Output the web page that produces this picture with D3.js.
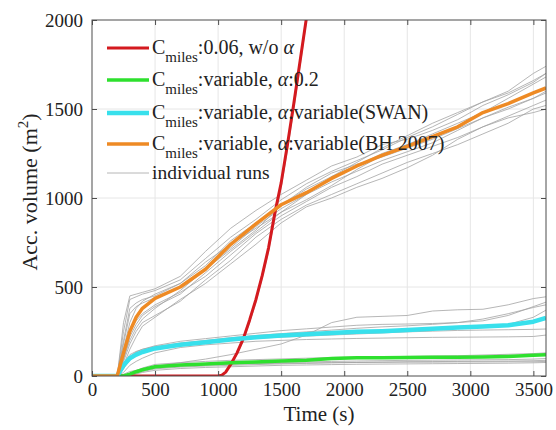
<!DOCTYPE html>
<html>
<head>
<meta charset="utf-8">
<script src="https://cdn.jsdelivr.net/npm/d3@7"></script>
<style>
body { margin: 0; background: #fff; }
text { font-family: "Liberation Serif", "Times New Roman", serif; fill: #222; }
</style>
</head>
<body>
<script>
var width = 556, height = 430;

// time grid shared by the individual runs (s)
var runTimes = [0,200,250,300,350,400,500,700,900,1100,1300,1500,1700,1900,2100,2300,2500,2700,2900,3100,3300,3500,3600];

// individual runs, BH 2007 group
var runB1 = [0,0,300,450,460,470,490,560,700,830,930,1020,1100,1180,1230,1300,1330,1380,1440,1520,1580,1650,1700];
var runB2 = [0,0,250,430,445,460,480,540,660,780,880,990,1080,1150,1210,1270,1340,1400,1470,1540,1600,1700,1740];
var runB3 = [0,0,150,300,380,420,460,520,620,760,860,960,1050,1120,1180,1250,1300,1360,1420,1480,1530,1590,1620];
var runB4 = [0,0,100,200,270,320,380,480,600,720,840,940,1020,1090,1150,1210,1260,1310,1380,1450,1510,1560,1600];
var runB5 = [0,0,120,250,310,350,400,470,560,680,800,900,980,1060,1120,1190,1240,1290,1340,1400,1460,1520,1550];
var runB6 = [0,0,80,180,250,300,340,420,540,650,780,880,960,1020,1080,1140,1200,1250,1300,1360,1420,1500,1520];
var runB7 = [0,0,200,380,410,430,450,520,640,740,830,920,990,1070,1160,1240,1300,1340,1400,1480,1560,1640,1680];
var runB8 = [0,0,90,220,290,340,390,460,580,700,810,920,1020,1120,1200,1280,1350,1420,1480,1540,1590,1660,1700];
var runB9 = [0,0,60,150,220,280,330,430,520,630,740,860,950,1000,1060,1110,1170,1240,1330,1400,1450,1480,1500];
var runB10 = [0,0,180,350,390,410,440,500,600,710,820,960,1060,1140,1190,1230,1280,1330,1390,1450,1500,1560,1590];

// individual runs, SWAN group
var runS1 = [0,0,50,110,135,150,170,195,210,225,240,255,265,275,285,290,292,295,300,310,340,390,415];
var runS2 = [0,0,70,120,138,150,165,185,200,215,228,238,248,258,268,276,282,290,300,320,350,385,400];
var runS3 = [0,0,40,90,112,130,150,170,185,200,212,222,232,240,246,252,258,262,268,275,290,330,370];
var runS4 = [0,0,60,100,122,140,160,180,195,205,212,218,224,230,236,242,248,252,256,258,260,262,264];
var runS5 = [0,0,20,60,82,100,130,160,175,185,195,200,205,208,211,213,215,217,218,219,220,222,230];
var runS6 = [0,0,10,25,32,40,55,75,95,120,150,180,230,300,330,335,340,365,372,375,400,435,445];

// individual runs, alpha 0.2 group
var runA1 = [0,0,0,15,30,45,65,75,82,88,92,96,100,104,106,108,110,112,114,118,122,126,130];
var runA2 = [0,0,0,8,19,30,45,55,62,68,72,76,79,82,84,86,88,89,90,91,92,95,98];
var runA3 = [0,0,0,5,15,25,40,50,56,60,64,68,71,74,76,78,80,81,82,83,84,86,88];
var runA4 = [0,0,0,10,22,35,50,58,63,66,69,71,73,75,76,77,78,78,79,79,80,80,82];
var runA5 = [0,0,0,3,11,20,32,42,48,52,56,60,62,64,66,67,68,69,70,71,72,74,76];

// Cmiles 0.06 without alpha
var redTimes = [0,1000,1030,1060,1100,1150,1200,1250,1300,1350,1400,1450,1500,1550,1600,1650,1700];
var redValues = [0,0,5,22,65,130,210,315,430,565,720,915,1085,1300,1530,1770,2010];
var redRun1 = [0,0,4,18,58,120,200,300,415,550,700,890,1060,1270,1500,1740,1990];

// mean curves on the run time grid
var greenValues = [0,0,0,10,24,35,52,62,68,74,79,84,89,98,102,103,104,105,106,107,110,116,120];
var cyanValues = [0,0,60,100,120,135,155,175,190,205,218,227,235,242,248,252,258,265,272,278,285,305,326];
var orangeValues = [0,0,130,250,330,380,436,500,600,740,855,962,1030,1110,1180,1240,1290,1345,1400,1480,1530,1590,1618];

var xTicks = [0,500,1000,1500,2000,2500,3000,3500];
var yTicks = [0,500,1000,1500,2000];

var runsGray = [runB1,runB2,runB3,runB4,runB5,runB6,runB7,runB8,runB9,runB10,
  runS1,runS2,runS3,runS4,runS5,runS6,runA1,runA2,runA3,runA4,runA5];

var pLeft = 92, pRight = 546, pTop = 20, pBottom = 376;

var svg = d3.select("body").append("svg")
  .attr("width", width)
  .attr("height", height);

var x = d3.scaleLinear().domain([0,3600]).range([pLeft, pRight]);
var y = d3.scaleLinear().domain([0,2000]).range([pBottom, pTop]);

// grid
svg.append("g").selectAll("line").data(xTicks.slice(1)).enter().append("line")
  .attr("x1", d => x(d)).attr("x2", d => x(d))
  .attr("y1", pTop).attr("y2", pBottom)
  .attr("stroke", "#e6e6e6").attr("stroke-width", 1);
svg.append("g").selectAll("line").data(yTicks.slice(1, -1)).enter().append("line")
  .attr("y1", d => y(d)).attr("y2", d => y(d))
  .attr("x1", pLeft).attr("x2", pRight)
  .attr("stroke", "#e6e6e6").attr("stroke-width", 1);

svg.append("clipPath").attr("id", "plotclip")
  .append("rect").attr("x", pLeft).attr("y", pTop)
  .attr("width", pRight - pLeft).attr("height", pBottom - pTop);

var plot = svg.append("g").attr("clip-path", "url(#plotclip)");

var line = d3.line()
  .x(function (d) { return x(d[0]); })
  .y(function (d) { return y(d[1]); });

function pairs(ts, vs) {
  return ts.map(function (t, i) { return [t, vs[i]]; });
}

runsGray.forEach(function (r) {
  plot.append("path")
    .attr("d", line(pairs(runTimes, r)))
    .attr("fill", "none")
    .attr("stroke", "#a3a3a3")
    .attr("stroke-width", 0.8);
});
plot.append("path")
  .attr("d", line(pairs(redTimes, redRun1)))
  .attr("fill", "none").attr("stroke", "#a3a3a3").attr("stroke-width", 0.8);

var series = [
  { ts: redTimes, vs: redValues, color: "#d41a1f", w: 3 },
  { ts: runTimes, vs: greenValues, color: "#2ee02e", w: 3.5 },
  { ts: runTimes, vs: cyanValues, color: "#38e0ec", w: 4.5 },
  { ts: runTimes, vs: orangeValues, color: "#ee8a24", w: 3.5 }
];
series.forEach(function (s) {
  plot.append("path")
    .attr("d", line(pairs(s.ts, s.vs)))
    .attr("fill", "none")
    .attr("stroke", s.color)
    .attr("stroke-width", s.w)
    .attr("stroke-linejoin", "round");
});

// axes, ticks inside like matlab
var axisColor = "#4d4d4d";
var xAxis = svg.append("g").attr("transform", "translate(0," + pBottom + ")")
  .call(d3.axisBottom(x).tickValues(xTicks).tickSize(-5).tickPadding(7).tickFormat(d3.format("d")));
var yAxis = svg.append("g").attr("transform", "translate(" + pLeft + ",0)")
  .call(d3.axisLeft(y).tickValues(yTicks).tickSize(-5).tickPadding(9).tickFormat(d3.format("d")));
svg.append("g").attr("transform", "translate(0," + pTop + ")")
  .call(d3.axisTop(x).tickValues(xTicks).tickSize(-5).tickFormat(""));
svg.append("g").attr("transform", "translate(" + pRight + ",0)")
  .call(d3.axisRight(y).tickValues(yTicks).tickSize(-5).tickFormat(""));

svg.selectAll(".domain").remove();
svg.selectAll(".tick line").attr("stroke", axisColor);
svg.selectAll(".tick text")
  .style("font-family", "Liberation Serif")
  .style("font-size", "19px")
  .attr("fill", "#222");
xAxis.selectAll(".tick text").attr("dy", "0.7em");

svg.append("rect")
  .attr("x", pLeft).attr("y", pTop)
  .attr("width", pRight - pLeft).attr("height", pBottom - pTop)
  .attr("fill", "none").attr("stroke", axisColor).attr("stroke-width", 1);

// axis labels
svg.append("text")
  .attr("x", (pLeft + pRight) / 2).attr("y", 421)
  .attr("text-anchor", "middle")
  .style("font-size", "21px")
  .text("Time (s)");

var yl = svg.append("text")
  .attr("transform", "translate(37,192) rotate(-90)")
  .attr("text-anchor", "middle")
  .style("font-size", "22px");
yl.append("tspan").text("Acc. volume (m");
yl.append("tspan").attr("dy", -9).style("font-size", "15px").text("2");
yl.append("tspan").attr("dy", 9).text(")");

// legend
var legendItems = [
  { color: "#d41a1f", w: 3, rest: [":0.06, w/o ", "α", ""] },
  { color: "#2ee02e", w: 3.5, rest: [":variable, ", "α", ":0.2"] },
  { color: "#38e0ec", w: 4.5, rest: [":variable, ", "α", ":variable(SWAN)"] },
  { color: "#ee8a24", w: 3.5, rest: [":variable, ", "α", ":variable(BH 2007)"] }
];
var legendY = [48, 80, 113, 144];

legendItems.forEach(function (d, i) {
  var ly = legendY[i];
  svg.append("line")
    .attr("x1", 107).attr("x2", 149).attr("y1", ly).attr("y2", ly)
    .attr("stroke", d.color).attr("stroke-width", d.w);
  var t = svg.append("text").attr("x", 152).attr("y", ly + 6).style("font-size", "20px");
  t.append("tspan").text("C");
  t.append("tspan").attr("dy", 8).style("font-size", "15px").text("miles");
  t.append("tspan").attr("dy", -8).text(d.rest[0]);
  t.append("tspan").style("font-style", "italic").text(d.rest[1]);
  t.append("tspan").text(d.rest[2]);
});

svg.append("line")
  .attr("x1", 107).attr("x2", 149).attr("y1", 173).attr("y2", 173)
  .attr("stroke", "#a3a3a3").attr("stroke-width", 0.8);
svg.append("text").attr("x", 152).attr("y", 179)
  .style("font-size", "19.5px")
  .text("individual runs");
</script>
</body>
</html>
